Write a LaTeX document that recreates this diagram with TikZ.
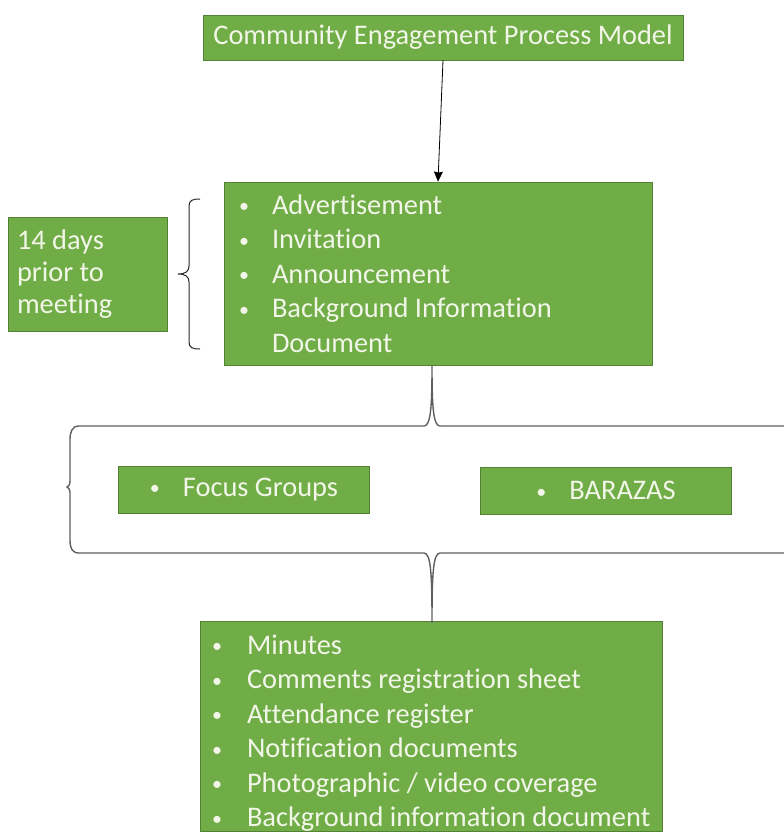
\documentclass[tikz,border=0pt]{standalone}
\usepackage{fontspec}
\setmainfont{Carlito}[RawFeature={-liga}]
\usetikzlibrary{arrows.meta}
\definecolor{leaf}{RGB}{112,173,71}
\definecolor{leafedge}{RGB}{84,130,53}
\definecolor{paper}{RGB}{242,246,232}
\definecolor{bracegray}{RGB}{95,95,95}
\newcommand{\blt}[1]{\makebox[#1][l]{\hspace{1pt}\raisebox{1.5pt}{\fontsize{20}{20}\selectfont\textbullet}}}
\begin{document}
\begin{tikzpicture}[x=1pt,y=-1pt,
    box/.style={draw=leafedge,line width=0.8pt,fill=leaf,text=paper,inner sep=0pt,
      font=\fontsize{28.4}{34.5}\selectfont},
    curl/.style={draw=bracegray,line width=1.4pt}]
  \useasboundingbox (0,0) rectangle (784,836);
  \clip (0,0) rectangle (784,836);
  \node [box,minimum width=480pt,minimum height=45pt] (title) at (443,37.5) {Community Engagement Process Model};
  \node [box,minimum width=428pt,minimum height=183pt,text width=400pt,align=flush left] (notice) at (438,273.5) {%
    \blt{34pt}Advertisement\\
    \blt{34pt}Invitation\\
    \blt{34pt}Announcement\\
    \blt{34pt}Background Information\\
    \hspace*{34pt}Document};
  \node [box,minimum width=159pt,minimum height=114pt,text width=141pt,align=flush left,
    font=\fontsize{28.4}{32}\selectfont] (days) at (87.5,274.5) {14 days\\prior to\\meeting};
  \node [box,minimum width=251pt,minimum height=47pt] (focus) at (243.5,489.5) {\blt{34pt}Focus Groups};
  \node [box,minimum width=251pt,minimum height=47pt] (baraza) at (605.5,490.5) {\blt{34pt}BARAZAS};
  \node [box,minimum width=462pt,minimum height=207pt,text width=440pt,align=flush left] (records) at (431,726.5) {%
    \rule{0pt}{33pt}\blt{36pt}Minutes\\
    \blt{36pt}Comments registration sheet\\
    \blt{36pt}Attendance register\\
    \blt{36pt}Notification documents\\
    \blt{36pt}Photographic / video coverage\\
    \blt{36pt}Background information document};
  \draw [-{Stealth[length=10pt,width=9pt,inset=1pt]},line width=0.8pt] (title.south) -- (notice.north);
  % brace between the 14 days box and the notice list
  \draw [curl,draw=black!85,line width=1pt] (200,199) .. controls (193,199) and (189,200) .. (189,206) -- (189,266)
    .. controls (189,271) and (186,274) .. (178,274)
    .. controls (186,274) and (189,277) .. (189,282) -- (189,342)
    .. controls (189,348) and (193,349) .. (200,349);
  % the large bracket round the meeting types
  \coordinate (tipup) at (432,365);
  \coordinate (tipdown) at (432,623);
  \draw [curl] (790,426) -- (440,426) .. controls (433,426) and (432,405) .. (tipup)
    .. controls (432,405) and (431,426) .. (424,426) -- (79,426)
    .. controls (72,426) and (70,432) .. (70,440) -- (70,481)
    .. controls (70,485) and (68,487) .. (67,487)
    .. controls (68,487) and (70,489) .. (70,493) -- (70,540)
    .. controls (70,548) and (72,553) .. (79,553) -- (424,553)
    .. controls (431,553) and (432,575) .. (tipdown)
    .. controls (432,575) and (433,553) .. (440,553) -- (790,553);
\end{tikzpicture}
\end{document}
